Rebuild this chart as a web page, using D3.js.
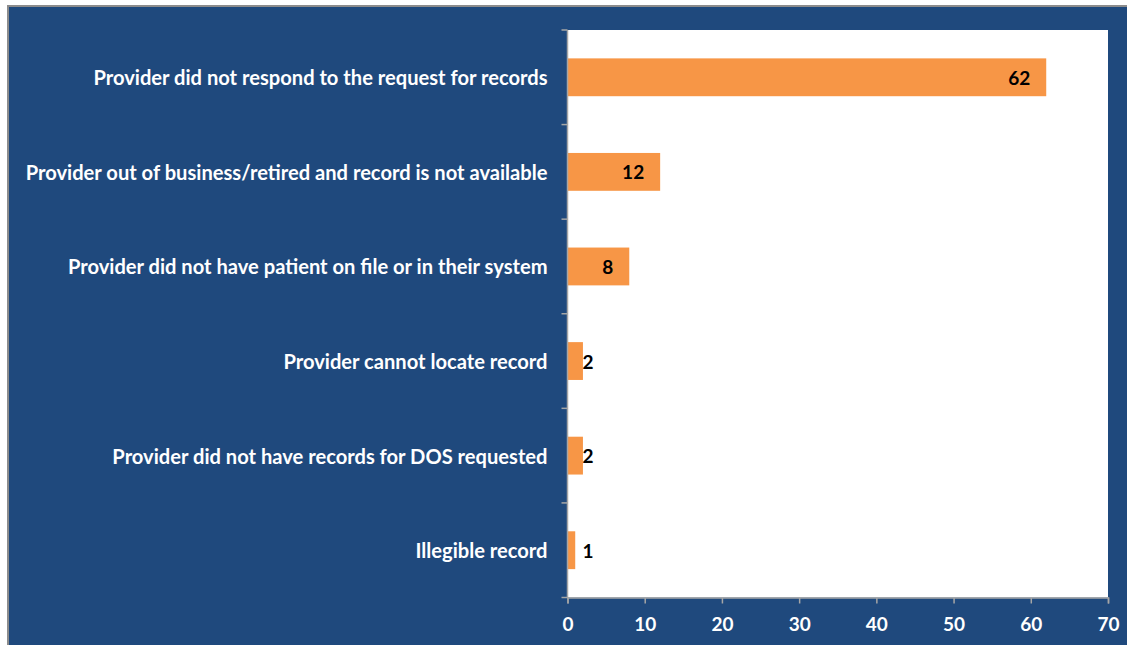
<!DOCTYPE html>
<html>
<head>
<meta charset="utf-8">
<script src="https://cdn.jsdelivr.net/npm/d3@7"></script>
<style>
  html, body { margin: 0; padding: 0; background: #ffffff; }
  svg { display: block; }
</style>
</head>
<body>
<svg id="chart" width="1127" height="645"></svg>
<script>
// Reasons medical records were not obtained, with counts
const categories = [
  "Provider did not respond to the request for records",
  "Provider out of business/retired and record is not available",
  "Provider did not have patient on file or in their system",
  "Provider cannot locate record",
  "Provider did not have records for DOS requested",
  "Illegible record"
];
const counts = [62, 12, 8, 2, 2, 1];
const tickValues = [0, 10, 20, 30, 40, 50, 60, 70];

const W = 1127, H = 645;
const FONT = "Lato, 'Open Sans', 'DejaVu Sans', sans-serif";
const svg = d3.select("#chart");

// Frame: grey border on top and left, blue panel filling the rest
svg.append("rect").attr("x", 7).attr("y", 5).attr("width", W - 7).attr("height", H - 5)
  .attr("fill", "#8c8c8c");
svg.append("rect").attr("x", 9).attr("y", 7).attr("width", W - 9).attr("height", H - 7)
  .attr("fill", "#1F497D");

const plot = { left: 567.5, right: 1108, top: 30, bottom: 597.5 };

const x = d3.scaleLinear().domain([0, 70]).range([plot.left, plot.right]);
const y = d3.scaleBand().domain(categories).range([plot.top, plot.bottom]).paddingInner(0.6).paddingOuter(0.3);
const yEdges = d3.scaleBand().domain(categories).range([plot.top, plot.bottom]);

// White plot area
svg.append("rect")
  .attr("x", plot.left).attr("y", plot.top)
  .attr("width", plot.right - plot.left).attr("height", plot.bottom - plot.top)
  .attr("fill", "#ffffff");

// Bars
svg.append("g").selectAll("rect").data(counts).join("rect")
  .attr("x", x(0))
  .attr("y", (d, i) => y(categories[i]))
  .attr("width", d => x(d) - x(0))
  .attr("height", y.bandwidth())
  .attr("fill", "#F79646");

// Category labels: size chosen so the longest label fills the space left of the axis
const measure = document.createElement("canvas").getContext("2d");
measure.font = "bold 100px " + FONT;
const longest = d3.max(categories, c => measure.measureText(c).width);
const labelSize = 100 * 523 / longest;

svg.append("g").selectAll("text").data(categories).join("text")
  .attr("x", plot.left - 20)
  .attr("y", d => yEdges(d) + yEdges.bandwidth() / 2)
  .attr("text-anchor", "end")
  .attr("dominant-baseline", "central")
  .attr("fill", "#ffffff")
  .attr("font-family", FONT)
  .attr("font-weight", "bold")
  .attr("font-size", labelSize)
  .text(d => d);

// Y axis: line plus tick marks at band boundaries
const axisColor = "#a6a6a6";
svg.append("line")
  .attr("x1", plot.left).attr("x2", plot.left)
  .attr("y1", plot.top).attr("y2", plot.bottom)
  .attr("stroke", axisColor).attr("stroke-width", 1.5);
const edges = categories.map(c => yEdges(c)).concat([plot.bottom]);
svg.append("g").selectAll("line").data(edges).join("line")
  .attr("x1", plot.left - 6).attr("x2", plot.left)
  .attr("y1", d => d).attr("y2", d => d)
  .attr("stroke", axisColor).attr("stroke-width", 1.5);

// X axis
const xAxis = svg.append("g")
  .attr("transform", `translate(0,${plot.bottom})`)
  .call(d3.axisBottom(x).tickValues(tickValues).tickSize(6).tickPadding(14).tickFormat(d3.format("d")));
xAxis.select(".domain").attr("stroke", axisColor).attr("stroke-width", 1.5);
xAxis.selectAll(".tick line").attr("stroke", axisColor).attr("stroke-width", 1.5);
xAxis.selectAll(".tick text")
  .attr("fill", "#ffffff")
  .attr("font-family", FONT)
  .attr("font-weight", "bold")
  .attr("font-size", 19);

// Value labels: inside the bar end, or just past a short bar
svg.append("g").selectAll("text").data(counts).join("text")
  .attr("x", d => Math.max(x(d) - 16, x(0) + 26))
  .attr("y", (d, i) => yEdges(categories[i]) + yEdges.bandwidth() / 2)
  .attr("text-anchor", "end")
  .attr("dominant-baseline", "central")
  .attr("fill", "#000000")
  .attr("font-family", FONT)
  .attr("font-weight", "bold")
  .attr("font-size", 19)
  .text(d => d);
</script>
</body>
</html>
